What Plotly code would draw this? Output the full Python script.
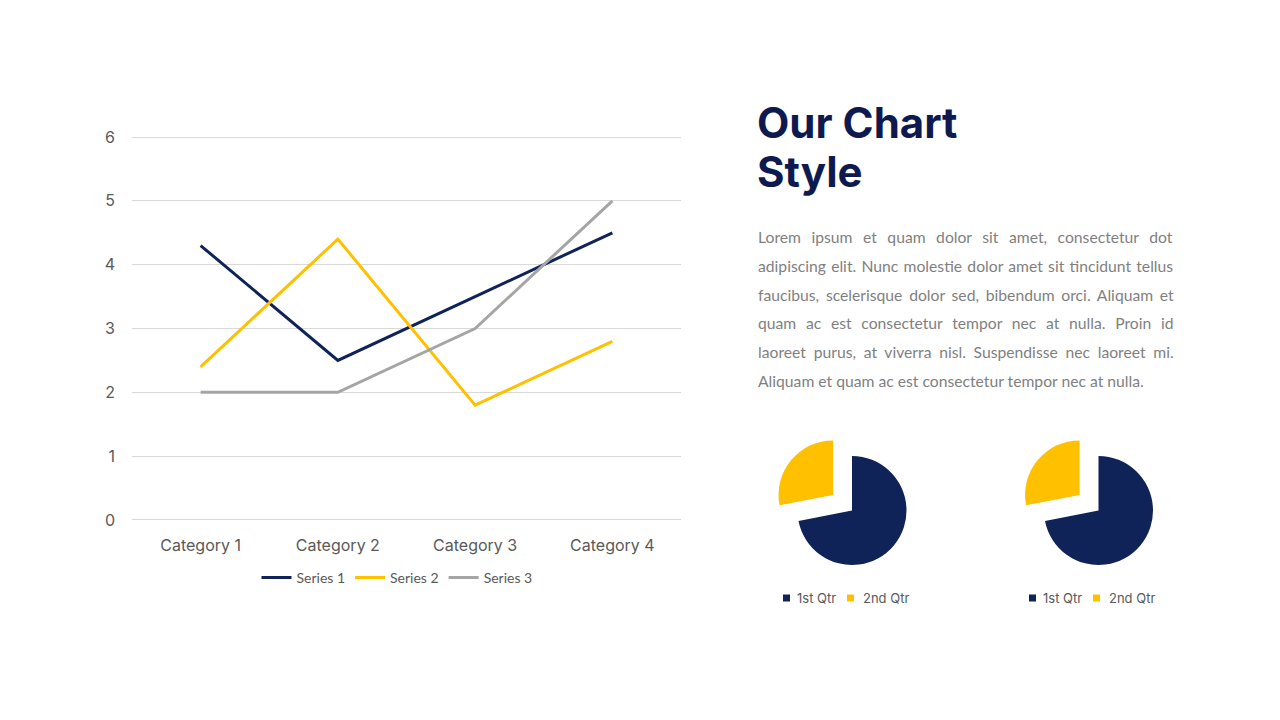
import plotly.graph_objects as go

categories = ["Category 1", "Category 2", "Category 3", "Category 4"]
series_names = ["Series 1", "Series 2", "Series 3"]
series1 = [4.3, 2.5, 3.5, 4.5]
series2 = [2.4, 4.4, 1.8, 2.8]
series3 = [2.0, 2.0, 3.0, 5.0]
y_ticks = [0, 1, 2, 3, 4, 5, 6]

pie_labels = ["1st Qtr", "2nd Qtr"]
pie1_values = [8.2, 3.2]
pie2_values = [8.2, 3.2]

title_lines = ["Our Chart", "Style"]
paragraph_lines = [
    "Lorem ipsum et quam dolor sit amet, consectetur dot",
    "adipiscing elit. Nunc molestie dolor amet sit tincidunt tellus",
    "faucibus, scelerisque dolor sed, bibendum orci. Aliquam et",
    "quam ac est consectetur tempor nec at nulla. Proin id",
    "laoreet purus, at viverra nisl. Suspendisse nec laoreet mi.",
    "Aliquam et quam ac est consectetur tempor nec at nulla.",
]
# extra word spacing (px) to imitate the justified paragraph
paragraph_word_spacing = [6.5, 1.25, 2.75, 5.7, 3.7, 0]

NAVY = "#0F2359"
YELLOW = "#FFC000"
GRAY = "#A5A5A5"
TXT = "#595959"
PIE_COLORS = [NAVY, YELLOW]

W, H = 1280, 720
def px(x):
    return x / W
def py(y):
    return (H - y) / H

Y_TOP = 6.05       # a little headroom so the top gridline is kept
UNIT = 63.83       # pixels per y unit

fig = go.Figure()
for name, vals, col in zip(series_names, [series1, series2, series3], [NAVY, YELLOW, GRAY]):
    fig.add_trace(go.Scatter(x=categories, y=vals, name=name, mode="lines",
                             line=dict(color=col, width=3)))

pie_r = 54.5
pull = 0.45
half = pie_r * (1 + pull)
pie_centers = [852, 1098.5]
for cx, vals in zip(pie_centers, [pie1_values, pie2_values]):
    cy = 510.5
    fig.add_trace(go.Pie(labels=pie_labels, values=vals, sort=False, direction="clockwise",
                         rotation=0, pull=[0, pull], textinfo="none", hoverinfo="label+value",
                         marker=dict(colors=PIE_COLORS, line=dict(width=0)),
                         domain=dict(x=[px(cx - half), px(cx + half)], y=[py(cy + half), py(cy - half)]),
                         showlegend=False))

annotations = []
shapes = []
for i, t in enumerate(title_lines):
    annotations.append(dict(text="<b>%s</b>" % t, x=px(755), y=py(123 + 48 * i), xref="paper", yref="paper",
                            xanchor="left", yanchor="middle", showarrow=False,
                            font=dict(family="Inter", size=42, color="#0E1A4F")))
for i, (t, ws) in enumerate(zip(paragraph_lines, paragraph_word_spacing)):
    annotations.append(dict(text='<span style="word-spacing:%.2fpx">%s</span>' % (ws, t),
                            x=px(756), y=py(237 + 28.8 * i), xref="paper", yref="paper",
                            xanchor="left", yanchor="middle", showarrow=False,
                            font=dict(family="Lato", size=15.7, color="#7F7F7F")))

# pie legends (one per pie)
legend_offsets = [(0, 12), (64, 78)]  # square x offset, text x offset relative to legend start
legend_starts = [783, 1029]
for start in legend_starts:
    for lab, col, (sq, tx) in zip(pie_labels, PIE_COLORS, legend_offsets):
        shapes.append(dict(type="rect", xref="paper", yref="paper",
                           x0=px(start + sq), x1=px(start + sq + 7), y0=py(601.5), y1=py(594.5),
                           fillcolor=col, line=dict(width=0)))
        annotations.append(dict(text=lab, x=px(start + tx), y=py(597.5), xref="paper", yref="paper",
                                xanchor="left", yanchor="middle", showarrow=False,
                                font=dict(family="Inter", size=13, color=TXT)))

fig.update_layout(
    width=W, height=H, autosize=False,
    margin=dict(l=0, r=0, t=0, b=0),
    paper_bgcolor="white", plot_bgcolor="white",
    xaxis=dict(domain=[px(132), px(681)], range=[-0.5, 3.5], showgrid=False, showline=False,
               zeroline=False, ticks="", tickfont=dict(family="Inter", size=16, color=TXT),
               ticklabelstandoff=14, fixedrange=True, automargin=False),
    yaxis=dict(domain=[py(520), py(520 - Y_TOP * UNIT)], range=[0, Y_TOP], tickvals=y_ticks, showgrid=True,
               gridcolor="#D9D9D9", gridwidth=1, zeroline=True, zerolinecolor="#D9D9D9",
               zerolinewidth=1, showline=False, ticks="",
               tickfont=dict(family="Inter", size=16, color=TXT), ticklabelstandoff=16,
               fixedrange=True, automargin=False),
    legend=dict(orientation="h", x=px(397), y=py(578), xanchor="center", yanchor="middle",
                font=dict(family="Lato", size=14, color=TXT), bgcolor="rgba(0,0,0,0)"),
    annotations=annotations,
    shapes=shapes,
    showlegend=True,
)

fig.write_html("out.html")
